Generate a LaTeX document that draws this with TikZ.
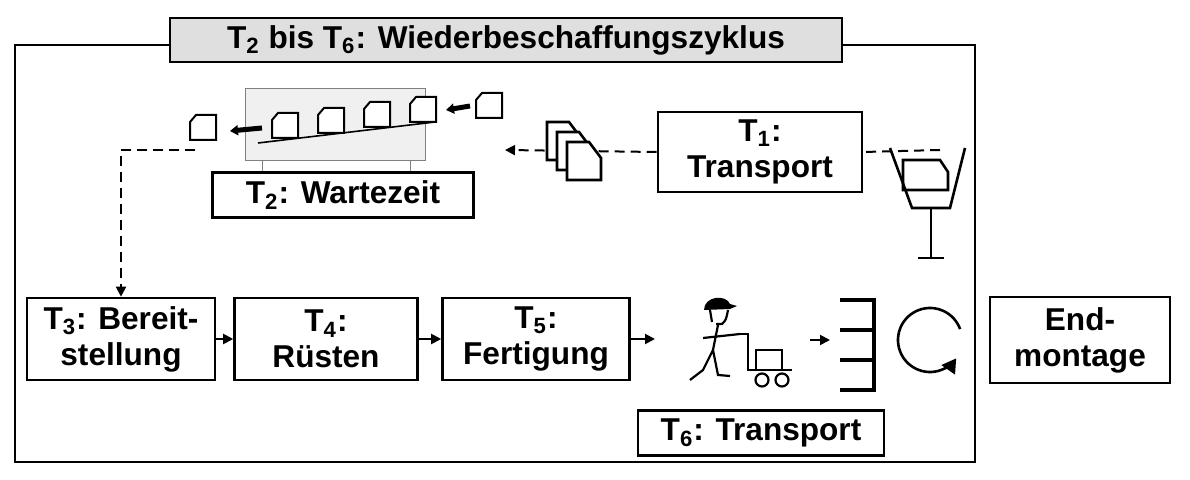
\documentclass[tikz,border=0pt]{standalone}
\usepackage{fontspec}
\setmainfont{Liberation Sans}
\usetikzlibrary{arrows.meta}
% small work piece with a cut corner
\newcommand\piece[3][1]{%
  \draw[fill=white,line width=#1pt] (#2,#3) -- ++(0,-18) -- ++(6,-7) -- ++(20,0) -- ++(0,25) -- cycle;}

\begin{document}
\begin{tikzpicture}[x=0.5pt,y=-0.5pt,
  box/.style={draw,line width=1.3pt,fill=white,align=center,
    font=\fontsize{15.8}{18}\selectfont\bfseries,inner sep=0pt},
  flow/.style={-{Triangle[length=5pt,width=5pt]},line width=1pt},
  dflow/.style={flow,dashed,dash pattern=on 5pt off 3pt}]
  \useasboundingbox (0,0) rectangle (1190,480);

  % frame and title
  \draw[line width=1.3pt] (15,45) rectangle (975,462);
  \node[box,fill=gray!25,minimum width=336pt,minimum height=22pt] (title) at (506,40)
    {T\textsubscript{2} bis T\textsubscript{6}: Wiederbeschaffungszyklus};

  % waiting buffer
  \draw[gray,fill=gray!12] (245,88) rectangle (425,160);
  \draw[gray] (262,160) -- (262,172) (410,160) -- (410,172);
  \draw[line width=0.8pt] (258,143) -- (435,122);
  \foreach \x/\y in {272/138, 318/133, 364/127, 410/122} {\piece{\x}{\y}}
  \piece{190}{140}
  \piece{476}{118}
  \draw[-{Triangle[length=4pt,width=5pt]},line width=2.5pt] (262,128) -- (230,131);
  \draw[-{Triangle[length=4pt,width=5pt]},line width=2.5pt] (470,106) -- (446,110);
  \node[box,minimum width=130.5pt,minimum height=22.5pt] (t2) at (343,195) {T\textsubscript{2}: Wartezeit};

  % transport T1
  \node[box,minimum width=102pt,minimum height=40pt] (t1) at (760,152) {T\textsubscript{1}:\\Transport};
  \coordinate (c1) at (940,150);
  \coordinate (c2) at (505,150);
  \draw[dashed,dash pattern=on 5pt off 3pt,line width=1pt] (c1) -- (t1.east);
  \draw[dflow] (t1.west) -- (c2);
  \foreach \d in {0,10,20} {
    \draw[fill=white,line width=1.3pt] (547+\d,147+\d) -- ++(0,-25) -- ++(22,0) -- ++(12,16) -- ++(0,22) -- ++(-34,0) -- cycle;}

  % container on stand
  \draw[line width=1.3pt] (890,148) -- (912,208) -- (950,208) -- (965,148);
  \draw[line width=1.3pt] (931,208) -- (931,258) (918,258) -- (944,258);
  \draw[line width=1.3pt] (903,190) -- (903,160) -- (940,160) -- (948,172) -- (948,190) -- cycle;

  % lower chain
  \node[box,minimum width=94pt,minimum height=41pt] (t3) at (121,339) {T\textsubscript{3}: Bereit-\\stellung};
  \node[box,minimum width=91.5pt,minimum height=41pt] (t4) at (326,339) {T\textsubscript{4}:\\Rüsten};
  \node[box,minimum width=93.5pt,minimum height=41pt] (t5) at (536,339) {T\textsubscript{5}:\\Fertigung};
  \coordinate (c3) at (195,150);
  \draw[dflow] (c3) -| (t3.north);
  \draw[flow] (t3) -- (t4);
  \draw[flow] (t4) -- (t5);
  \coordinate (c4) at (655,339);
  \draw[flow] (t5) -- (c4);

  % worker with trolley
  \begin{scope}[line width=1.1pt]
    \fill (704,310) .. controls (704,296) and (726,294) .. (730,304) -- (737,306) -- (730,309) -- cycle;
    \draw (710,310) -- (712,322) (728,310) .. controls (726,320) .. (722,324) -- (716,324);
    \draw (718,325) -- (713,350) (703,338) -- (740,334);
    \draw (713,350) -- (703,370) -- (690,380) (713,350) -- (718,375) -- (730,376);
    \draw (740,334) -- (748,334) -- (748,370) -- (792,370);
    \draw (756,370) rectangle (782,350);
    \draw (762,380) circle (6.5) (782,380) circle (6.5);
  \end{scope}
  \coordinate (c5) at (810,340);
  \coordinate (c6) at (830,340);
  \draw[flow] (c5) -- (c6);
  \draw[line width=1.8pt] (840,300) -- (874,300) -- (874,390) -- (840,390) (840,330) -- (874,330) (840,360) -- (874,360);
  \draw[line width=1.3pt,-{Triangle[length=7pt,width=8pt]}] (930,340) ++(-20:32) arc (-20:-325:32);
  \node[box,minimum width=90pt,minimum height=43pt] (t6a) at (1080,340) {End-\\montage};
  \node[box,minimum width=123pt,minimum height=22.5pt] (t6) at (761,433) {T\textsubscript{6}: Transport};
\end{tikzpicture}
\end{document}
